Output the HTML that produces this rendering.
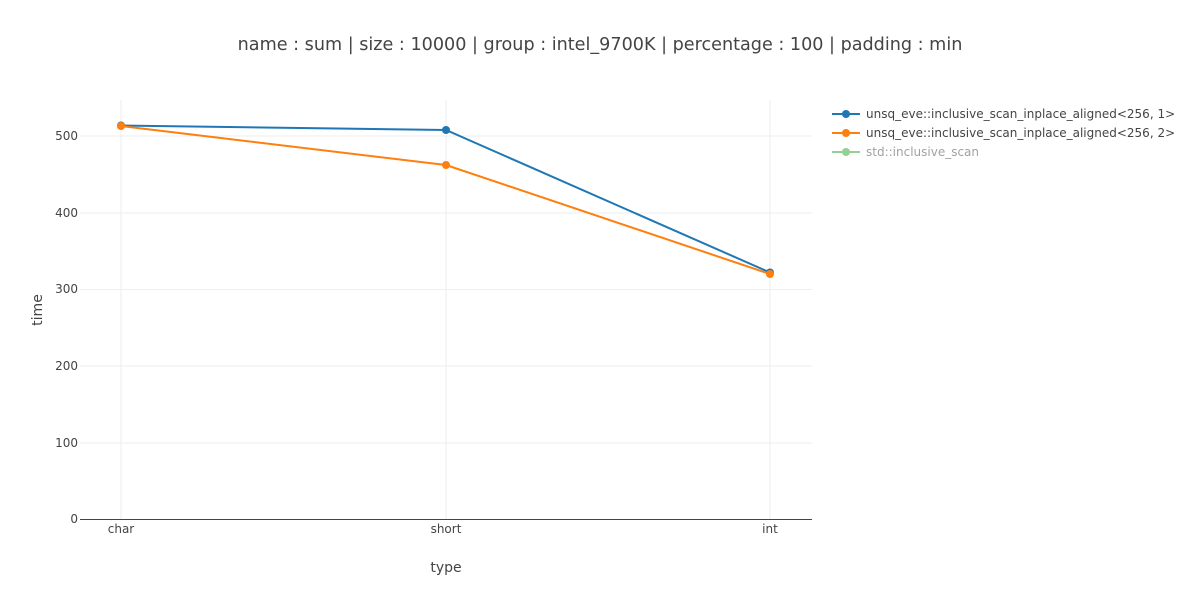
<!DOCTYPE html>
<html><head><meta charset="utf-8"><style>
body{margin:0;background:#fff;}
svg text{font-family:"DejaVu Sans","Liberation Sans",sans-serif;}
</style></head><body>
<svg width="1200" height="600" xmlns="http://www.w3.org/2000/svg">
<rect width="1200" height="600" fill="#fff"/>
<g stroke="#eee" stroke-width="1">
<line x1="121" y1="100" x2="121" y2="519"/>
<line x1="446" y1="100" x2="446" y2="519"/>
<line x1="770" y1="100" x2="770" y2="519"/>
<line x1="80" y1="443" x2="812" y2="443"/>
<line x1="80" y1="366" x2="812" y2="366"/>
<line x1="80" y1="289.5" x2="812" y2="289.5"/>
<line x1="80" y1="213" x2="812" y2="213"/>
<line x1="80" y1="136" x2="812" y2="136"/>
</g>
<line x1="80" y1="519.5" x2="812" y2="519.5" stroke="#444" stroke-width="1"/>
<g font-size="12" fill="#444" text-anchor="end">
<text x="78" y="523">0</text>
<text x="78" y="447">100</text>
<text x="78" y="370">200</text>
<text x="78" y="293">300</text>
<text x="78" y="217">400</text>
<text x="78" y="140">500</text>
</g>
<g font-size="12" fill="#444" text-anchor="middle">
<text x="121" y="533">char</text>
<text x="446" y="533">short</text>
<text x="770" y="533">int</text>
</g>
<text x="446" y="572" font-size="14" fill="#444" text-anchor="middle">type</text>
<text x="42" y="310" font-size="14" fill="#444" text-anchor="middle" transform="rotate(-90 42 310)">time</text>
<text x="600" y="50" font-size="17.6" fill="#444" text-anchor="middle">name : sum | size : 10000 | group : intel_9700K | percentage : 100 | padding : min</text>
<polyline points="121,125.5 446,130 770,272.5" fill="none" stroke="#1f77b4" stroke-width="2"/>
<g fill="#1f77b4"><circle cx="121" cy="125.5" r="4"/><circle cx="446" cy="130" r="4"/><circle cx="770" cy="272.5" r="4"/></g>
<polyline points="121,126 446,165 770,274" fill="none" stroke="#ff7f0e" stroke-width="2"/>
<g fill="#ff7f0e"><circle cx="121" cy="126" r="4"/><circle cx="446" cy="165" r="4"/><circle cx="770" cy="274" r="4"/></g>
<g font-size="12">
<line x1="832" y1="114" x2="860" y2="114" stroke="#1f77b4" stroke-width="2"/><circle cx="846" cy="114" r="4" fill="#1f77b4"/>
<text x="866" y="118" fill="#444">unsq_eve::inclusive_scan_inplace_aligned&lt;256, 1&gt;</text>
<line x1="832" y1="133" x2="860" y2="133" stroke="#ff7f0e" stroke-width="2"/><circle cx="846" cy="133" r="4" fill="#ff7f0e"/>
<text x="866" y="137" fill="#444">unsq_eve::inclusive_scan_inplace_aligned&lt;256, 2&gt;</text>
<g opacity="0.5"><line x1="832" y1="152" x2="860" y2="152" stroke="#2ca02c" stroke-width="2"/><circle cx="846" cy="152" r="4" fill="#2ca02c"/>
<text x="866" y="156" fill="#444">std::inclusive_scan</text></g>
</g>
</svg>
</body></html>
